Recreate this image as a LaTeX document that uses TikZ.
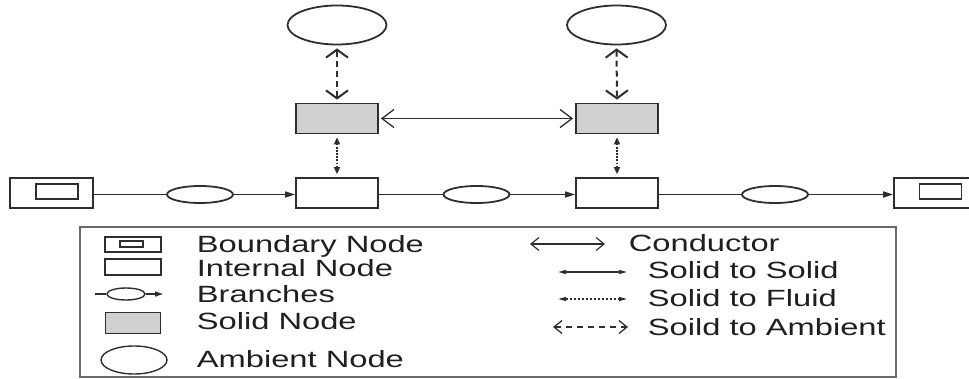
\documentclass[tikz,border=0pt]{standalone}
\usepackage{fontspec}
\setmainfont{Liberation Sans}
\newfontfamily\legfont[FakeStretch=1.39]{Liberation Sans}
\usetikzlibrary{arrows.meta,shapes.geometric}
\definecolor{ln}{HTML}{2E2E2E}
\definecolor{solidfill}{HTML}{D0D0D0}
\definecolor{frame}{HTML}{6A6A6A}
\begin{document}
\begin{tikzpicture}[x=1pt,y=-1pt,line width=1.8pt,
  nodebox/.style={draw=ln,rectangle,inner sep=0pt,minimum width=82pt,minimum height=30pt},
  solidbox/.style={nodebox,fill=solidfill},
  innerbox/.style={draw=ln,rectangle,inner sep=0pt,minimum width=42pt,minimum height=15pt},
  ambient/.style={draw=ln,ellipse,inner sep=0pt,minimum width=99pt,minimum height=39pt},
  branch/.style={draw=ln,ellipse,inner sep=0pt,minimum width=66pt,minimum height=17pt},
  flow/.style={draw=ln,line width=1.5pt,-{Triangle[length=10pt,width=6pt]}},
  plain/.style={draw=ln,line width=1.5pt},
  conductor/.style={draw=ln,line width=1.3pt,{Straight Barb[length=12pt,width=18pt]}-{Straight Barb[length=12pt,width=18pt]}},
  tofluid/.style={draw=ln,line width=1.8pt,dash pattern=on 1.5pt off 1.6pt,{Triangle[length=7pt,width=6pt]}-{Triangle[length=7pt,width=6pt]}},
  toambient/.style={draw=ln,line width=2pt,dash pattern=on 6pt off 4pt,{Straight Barb[length=8pt,width=22pt]}-{Straight Barb[length=8pt,width=22pt]}},
  legtext/.style={anchor=base west,inner sep=0pt,font=\legfont\fontsize{23.5}{26}\selectfont,text=black!88}
]
\useasboundingbox (0,0) rectangle (969,379);
\clip (0,0) rectangle (969,379);

% ambient nodes
\node[ambient] (a1) at (337,25) {};
\node[ambient] (a2) at (616.5,25) {};
% solid nodes
\node[solidbox] (s1) at (337,118.5) {};
\node[solidbox] (s2) at (617,118.5) {};
% internal nodes
\node[nodebox] (i1) at (337,193) {};
\node[nodebox] (i2) at (617,193) {};
% boundary nodes
\node[nodebox,minimum width=83pt] (bl) at (51.5,193) {};
\node[innerbox] (blin) at (57,191.5) {};
\node[nodebox,minimum width=83pt] (br) at (935.5,193) {};
\node[innerbox] (brin) at (940.5,191.5) {};
% branches
\node[branch] (e1) at (200,194.5) {};
\node[branch] (e2) at (476.5,194.5) {};
\node[branch] (e3) at (775,194.5) {};

% connectors
\draw[plain] (bl.east |- e1.west) -- (e1.west);
\draw[flow] (e1.east) -- (e1.east -| i1.west);
\draw[plain] (i1.east |- e2.west) -- (e2.west);
\draw[flow] (e2.east) -- (e2.east -| i2.west);
\draw[plain] (i2.east |- e3.west) -- (e3.west);
\draw[flow] (e3.east) -- (e3.east -| br.west);

\draw[toambient,shorten <=3pt,shorten >=3pt] (a1.south) -- (s1.north);
\draw[toambient,shorten <=3pt,shorten >=3pt] (a2.south) -- (s2.north);
\draw[tofluid,shorten <=3pt,shorten >=3pt] (s1.south) -- (i1.north);
\draw[tofluid,shorten <=3pt,shorten >=3pt] (s2.south) -- (i2.north);
\draw[conductor,shorten <=2pt,shorten >=2pt] (s1.east) -- (s2.west);

% legend
\node[draw=frame,line width=1.2pt,rectangle,inner sep=0pt,minimum width=816pt,minimum height=150pt] (legend) at (488,302) {};

\node[draw=ln,line width=1.4pt,rectangle,inner sep=0pt,minimum width=56pt,minimum height=15pt] (lb) at (133,244.5) {};
\node[draw=ln,line width=1.4pt,rectangle,inner sep=0pt,minimum width=23pt,minimum height=6pt] (lbin) at (131.5,244) {};
\node[draw=ln,line width=1.4pt,rectangle,inner sep=0pt,minimum width=56pt,minimum height=16pt] (li) at (133,267) {};
\coordinate (lbr1) at (95,294);
\coordinate (lbr2) at (163,294);
\node[draw=ln,line width=1.4pt,ellipse,inner sep=0pt,minimum width=38pt,minimum height=12pt] (lbe) at (126,294) {};
\draw[plain,line width=1.4pt] (lbr1) -- (lbe.west);
\draw[draw=ln,line width=1.4pt,-{Triangle[length=8pt,width=5pt]}] (lbe.east) -- (lbr2);
\node[draw=ln,line width=1.4pt,fill=solidfill,rectangle,inner sep=0pt,minimum width=55pt,minimum height=21pt] (ls) at (133,323) {};
\node[draw=ln,line width=1.4pt,ellipse,inner sep=0pt,minimum width=66pt,minimum height=28pt] (la) at (134,360) {};

\node[legtext] (tb) at (196,253) {Boundary Node};
\node[legtext] (ti) at (196,277) {Internal Node};
\node[legtext] (tbr) at (196,303) {Branches};
\node[legtext] (ts) at (196,330) {Solid Node};
\node[legtext] (ta) at (196,367) {Ambient Node};

\coordinate (lc1) at (530,244);
\coordinate (lc2) at (605,244);
\draw[draw=ln,line width=1.2pt,{Straight Barb[length=8pt,width=13pt]}-{Straight Barb[length=8pt,width=13pt]}] (lc1) -- (lc2);
\coordinate (lss1) at (558,272);
\coordinate (lss2) at (627,272);
\draw[draw=ln,line width=1.4pt,{Triangle[length=8pt,width=4pt]}-{Triangle[length=8pt,width=4pt]}] (lss1) -- (lss2);
\coordinate (lsf1) at (558,299);
\coordinate (lsf2) at (627,299);
\draw[draw=ln,line width=1.4pt,dash pattern=on 2pt off 2pt,{Triangle[length=8pt,width=4pt]}-{Triangle[length=8pt,width=4pt]}] (lsf1) -- (lsf2);
\coordinate (lsa1) at (553,327);
\coordinate (lsa2) at (628,327);
\draw[draw=ln,line width=1.3pt,dash pattern=on 6pt off 5pt,{Straight Barb[length=8pt,width=13pt]}-{Straight Barb[length=8pt,width=13pt]}] (lsa1) -- (lsa2);

\node[legtext] (tc) at (628,252) {Conductor};
\node[legtext] (tss) at (647,279) {Solid to Solid};
\node[legtext] (tsf) at (647,307) {Solid to Fluid};
\node[legtext] (tsa) at (647,335) {Soild to Ambient};
\end{tikzpicture}
\end{document}
